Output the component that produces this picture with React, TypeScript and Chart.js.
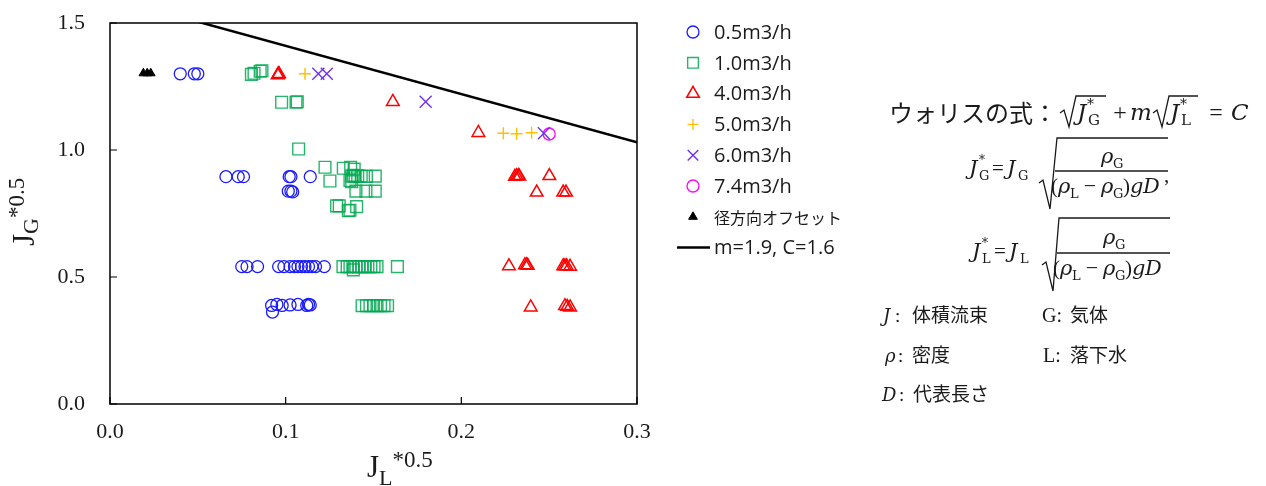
import React, { useEffect, useRef } from 'react';
import { Chart, registerables } from 'chart.js';

Chart.register(...registerables);

// ---------- labels / ticks ----------
const SERIES_LABELS = ['0.5m3/h', '1.0m3/h', '4.0m3/h', '5.0m3/h', '6.0m3/h', '7.4m3/h', '径方向オフセット'];
const LINE_LABEL = 'm=1.9, C=1.6';
const X_TICKS = [0, 0.1, 0.2, 0.3];
const Y_TICKS = [0, 0.5, 1.0, 1.5];
const WALLIS_M = 1.9;
const WALLIS_C = 1.6;
const LINE_X = [0, 0.3];

// ---------- 0.5 m3/h ----------
const q05X = [0.040, 0.048, 0.050,
  0.066, 0.073, 0.076, 0.102, 0.103, 0.114,
  0.1015, 0.103, 0.104,
  0.075, 0.078, 0.084, 0.096, 0.099, 0.1025, 0.105, 0.107, 0.109, 0.111, 0.113, 0.115, 0.117, 0.122,
  0.092, 0.095, 0.098, 0.1025, 0.107, 0.112, 0.113, 0.114, 0.0925];
const q05Y = [1.30, 1.30, 1.30,
  0.895, 0.895, 0.895, 0.895, 0.895, 0.895,
  0.838, 0.838, 0.835,
  0.541, 0.541, 0.541, 0.541, 0.541, 0.541, 0.541, 0.541, 0.541, 0.541, 0.541, 0.541, 0.541, 0.541,
  0.388, 0.392, 0.388, 0.390, 0.392, 0.388, 0.392, 0.390, 0.362];

// ---------- 1.0 m3/h ----------
const q10X = [0.0805, 0.082, 0.0855, 0.0865,
  0.0977, 0.1059, 0.1066,
  0.1074,
  0.1224, 0.1328, 0.1370, 0.1390,
  0.1252,
  0.1376, 0.1385, 0.1395, 0.1410, 0.1430, 0.1460, 0.1510,
  0.1366, 0.1376,
  0.1400, 0.1457, 0.1510,
  0.1290, 0.1305, 0.1357, 0.1366, 0.1404,
  0.1326, 0.1350, 0.1366, 0.1383, 0.1400, 0.1417, 0.1434, 0.1450, 0.1468, 0.1485, 0.1503, 0.1520, 0.1385, 0.1636,
  0.1435, 0.1460, 0.1480, 0.1500, 0.1520, 0.1540, 0.1560, 0.1580];
const q10Y = [1.298, 1.302, 1.310, 1.312,
  1.188, 1.188, 1.190,
  1.004,
  0.932, 0.928, 0.932, 0.925,
  0.878,
  0.897, 0.900, 0.895, 0.898, 0.897, 0.896, 0.897,
  0.880, 0.875,
  0.838, 0.838, 0.838,
  0.780, 0.780, 0.761, 0.763, 0.777,
  0.541, 0.541, 0.541, 0.541, 0.541, 0.541, 0.541, 0.541, 0.541, 0.541, 0.541, 0.541, 0.528, 0.541,
  0.387, 0.387, 0.387, 0.387, 0.387, 0.387, 0.387, 0.387];

// ---------- 4.0 m3/h ----------
const q40X = [0.0955, 0.0958, 0.0962,
  0.161, 0.2097,
  0.2305, 0.2315, 0.2325, 0.2330,
  0.2501, 0.2429, 0.2580, 0.2596,
  0.2271, 0.2362, 0.2372, 0.2378,
  0.2580, 0.2590, 0.2600, 0.2619,
  0.2395, 0.2590, 0.2603, 0.2619];
const q40Y = [1.295, 1.298, 1.300,
  1.190, 1.068,
  0.895, 0.897, 0.898, 0.896,
  0.898, 0.833, 0.833, 0.833,
  0.543, 0.547, 0.547, 0.545,
  0.543, 0.543, 0.543, 0.541,
  0.381, 0.386, 0.383, 0.381];

// ---------- 5.0 / 6.0 / 7.4 m3/h, radial offset ----------
const q50X = [0.111, 0.2239, 0.2315, 0.2400];
const q50Y = [1.300, 1.066, 1.064, 1.068];
const q60X = [0.1186, 0.1234, 0.1797, 0.2470];
const q60Y = [1.300, 1.300, 1.190, 1.066];
const q74X = [0.2500];
const q74Y = [1.063];
const offX = [0.0190, 0.0212, 0.0232];
const offY = [1.302, 1.302, 1.302];

const pts = (xs: number[], ys: number[]) => xs.map((x, i) => ({ x, y: ys[i] }));

const SERIF = "'Liberation Serif', 'Times New Roman', serif";
const MATH = "'DejaVu Serif', serif";
const CJK = "'Noto Sans CJK JP', sans-serif";
const INK = '#1a1a1a';

function drawMarker(ctx: CanvasRenderingContext2D, style: string, x: number, y: number, r: number, stroke: string, fill: string, lw: number) {
  ctx.save();
  ctx.strokeStyle = stroke;
  ctx.fillStyle = fill;
  ctx.lineWidth = lw;
  ctx.beginPath();
  if (style === 'circle') {
    ctx.arc(x, y, r, 0, Math.PI * 2);
  } else if (style === 'rect') {
    const s = r * Math.SQRT1_2;
    ctx.rect(x - s, y - s, 2 * s, 2 * s);
  } else if (style === 'triangle') {
    for (let k = 0; k < 3; k++) {
      const a = k * (2 * Math.PI / 3);
      const px = x + Math.sin(a) * r, py = y - Math.cos(a) * r;
      if (k === 0) ctx.moveTo(px, py); else ctx.lineTo(px, py);
    }
    ctx.closePath();
  } else if (style === 'cross') {
    ctx.moveTo(x - r, y); ctx.lineTo(x + r, y);
    ctx.moveTo(x, y - r); ctx.lineTo(x, y + r);
  } else if (style === 'crossRot') {
    const o = r * Math.SQRT1_2;
    ctx.moveTo(x - o, y - o); ctx.lineTo(x + o, y + o);
    ctx.moveTo(x + o, y - o); ctx.lineTo(x - o, y + o);
  }
  if (fill && fill !== 'transparent' && style !== 'cross' && style !== 'crossRot') ctx.fill();
  ctx.stroke();
  ctx.restore();
}

function drawParts(ctx: CanvasRenderingContext2D, parts: { t: string; size: number; dy: number }[]) {
  let x = 0;
  parts.forEach((p) => {
    ctx.font = `${p.size}px ${SERIF}`;
    ctx.fillText(p.t, x, p.dy);
    x += ctx.measureText(p.t).width;
  });
}

const decorPlugin = {
  id: 'decor',
  afterDraw(chart: any) {
    const { ctx, chartArea: a, scales } = chart;
    ctx.save();
    // frame
    ctx.strokeStyle = '#000';
    ctx.lineWidth = 1.5;
    ctx.strokeRect(a.left, a.top, a.right - a.left, a.bottom - a.top);
    // inward ticks
    ctx.lineWidth = 1.2;
    ctx.beginPath();
    X_TICKS.forEach((v) => {
      const px = scales.x.getPixelForValue(v);
      ctx.moveTo(px, a.bottom); ctx.lineTo(px, a.bottom - 7);
    });
    Y_TICKS.forEach((v) => {
      const py = scales.y.getPixelForValue(v);
      ctx.moveTo(a.left, py); ctx.lineTo(a.left + 7, py);
    });
    ctx.stroke();

    // axis titles
    ctx.fillStyle = INK;
    ctx.textBaseline = 'alphabetic';
    ctx.textAlign = 'left';
    ctx.save();
    ctx.translate(367, 477);
    drawParts(ctx, [{ t: 'J', size: 31, dy: 0 }, { t: 'L', size: 22, dy: 8 }, { t: '*0.5', size: 23, dy: -10 }]);
    ctx.restore();
    ctx.save();
    ctx.translate(34, 246);
    ctx.rotate(-Math.PI / 2);
    drawParts(ctx, [{ t: 'J', size: 31, dy: 0 }, { t: 'G', size: 22, dy: 4 }, { t: '*0.5', size: 23, dy: -10 }]);
    ctx.restore();

    // legend
    const mx = 693, tx = 714, y0 = 32, dy = 30.8;
    chart.data.datasets.forEach((ds: any, i: number) => {
      const y = y0 + i * dy;
      if (ds.showLine) {
        ctx.strokeStyle = ds.borderColor;
        ctx.lineWidth = ds.borderWidth;
        ctx.beginPath();
        ctx.moveTo(677, y); ctx.lineTo(710, y);
        ctx.stroke();
      } else {
        drawMarker(ctx, ds.pointStyle, mx, y, ds.legendRadius, ds.pointBorderColor, ds.pointBackgroundColor, ds.pointBorderWidth);
      }
      const isCJK = /[\u3000-\u9fff]/.test(ds.label);
      ctx.font = isCJK ? `16px ${CJK}` : "20px 'Open Sans', sans-serif";
      ctx.fillStyle = INK;
      ctx.textBaseline = 'middle';
      ctx.fillText(ds.label, tx, y + 1);
    });
    ctx.restore();
  },
};

function scatterSet(label: string, xs: number[], ys: number[], style: string, color: string, r: number, lw: number, fill = 'transparent', legendRadius = r) {
  return {
    label,
    data: pts(xs, ys),
    pointStyle: style,
    pointRadius: r,
    pointBorderColor: color,
    pointBackgroundColor: fill,
    pointBorderWidth: lw,
    borderColor: color,
    backgroundColor: fill,
    showLine: false,
    legendRadius,
  };
}

function ChartCanvas() {
  const ref = useRef<HTMLCanvasElement>(null);
  useEffect(() => {
    if (!ref.current) return;
    const lineData = LINE_X.map((x) => ({ x, y: WALLIS_C - WALLIS_M * x }));
    const chart = new Chart(ref.current, {
      type: 'scatter',
      data: {
        datasets: [
          scatterSet(SERIES_LABELS[0], q05X, q05Y, 'circle', '#1a1aff', 6, 1.3),
          scatterSet(SERIES_LABELS[1], q10X, q10Y, 'rect', 'rgba(0,168,80,0.85)', 8.3, 1.4, 'transparent', 7.6),
          scatterSet(SERIES_LABELS[2], q40X, q40Y, 'triangle', '#ff0000', 7.3, 1.5),
          scatterSet(SERIES_LABELS[3], q50X, q50Y, 'cross', '#ffc000', 6, 1.4, 'transparent', 5.5),
          scatterSet(SERIES_LABELS[4], q60X, q60Y, 'crossRot', '#7030f0', 8.5, 1.4, 'transparent', 7.5),
          scatterSet(SERIES_LABELS[5], q74X, q74Y, 'circle', '#ff00ff', 6, 1.3),
          scatterSet(SERIES_LABELS[6], offX, offY, 'triangle', '#000000', 5, 1, '#000000', 5),
          {
            label: LINE_LABEL,
            data: lineData,
            showLine: true,
            borderColor: '#000000',
            borderWidth: 2.5,
            pointRadius: 0,
            fill: false,
            clip: 0,
          } as any,
        ],
      },
      options: {
        animation: false,
        responsive: false,
        events: [],
        layout: { padding: { left: 0, top: 23, right: 629, bottom: 0 } },
        plugins: { legend: { display: false }, tooltip: { enabled: false } },
        scales: {
          x: {
            type: 'linear',
            min: 0,
            max: 0.3,
            afterBuildTicks: (s: any) => { s.ticks = X_TICKS.map((v) => ({ value: v })); },
            afterFit: (s: any) => { s.height = 82; },
            grid: { display: false, drawTicks: true, tickLength: 15 },
            border: { display: false },
            ticks: {
              padding: 0,
              color: INK,
              autoSkip: false,
              maxRotation: 0,
              font: { family: SERIF, size: 22 },
              callback: (v: any) => Number(v).toFixed(1),
            },
          },
          y: {
            type: 'linear',
            min: 0,
            max: 1.5,
            afterBuildTicks: (s: any) => { s.ticks = Y_TICKS.map((v) => ({ value: v })); },
            afterFit: (s: any) => { s.width = 110; },
            grid: { display: false, drawTicks: true, tickLength: 25 },
            border: { display: false },
            ticks: {
              padding: 0,
              color: INK,
              autoSkip: false,
              font: { family: SERIF, size: 22 },
              callback: (v: any) => Number(v).toFixed(1),
            },
          },
        },
      } as any,
      plugins: [decorPlugin],
    });
    return () => chart.destroy();
  }, []);
  return <canvas ref={ref} width={1266} height={486} style={{ display: 'block', width: 1266, height: 486 }} />;
}

type TP = { x: number; y: number; s: number; it?: boolean; f?: string; a?: 'start' | 'middle' | 'end'; children: React.ReactNode };
const T = ({ x, y, s, it, f = MATH, a = 'start', children }: TP) => (
  <text x={x} y={y} fontSize={s} fontStyle={it ? 'italic' : 'normal'} fontFamily={f} textAnchor={a} fill={INK}>{children}</text>
);

function Formulas() {
  const sw = { stroke: INK, fill: 'none', strokeWidth: 1.3 } as any;
  return (
    <svg width={1266} height={486} style={{ position: 'absolute', left: 0, top: 0, pointerEvents: 'none' }}>
      {/* line 1 */}
      <T x={889} y={122} s={24} f={CJK}>ウォリスの式：</T>
      <path d="M1060,113 L1064,110 L1069,127 L1076,96 L1106,96" {...sw} />
      <T x={1077} y={120} s={23} it>J</T>
      <T x={1087} y={109} s={14}>*</T>
      <T x={1088} y={125} s={15}>G</T>
      <T x={1120} y={120} s={24} f={SERIF} a="middle">+</T>
      <T x={1130} y={120} s={23} it>m</T>
      <path d="M1153,113 L1157,110 L1162,127 L1169,96 L1198,96" {...sw} />
      <T x={1170} y={120} s={23} it>J</T>
      <T x={1180} y={109} s={14}>*</T>
      <T x={1181} y={125} s={15}>L</T>
      <T x={1216} y={120} s={24} f={SERIF} a="middle">=</T>
      <T x={1231} y={120} s={23} it>C</T>

      {/* line 2 */}
      <T x={969} y={175} s={21} it>J</T>
      <T x={979} y={164} s={12}>*</T>
      <T x={979} y={180} s={13}>G</T>
      <T x={998} y={175} s={21} f={SERIF} a="middle">=</T>
      <T x={1007} y={175} s={21} it>J</T>
      <T x={1018} y={180} s={13}>G</T>
      <path d="M1039,183 L1043,180 L1050,209 L1057,138 L1168,138" {...sw} />
      <T x={1101} y={163} s={21} it>ρ</T>
      <T x={1113} y={168} s={13}>G</T>
      <line x1={1055} x2={1168} y1={171} y2={171} stroke={INK} strokeWidth={1.3} />
      <T x={1051} y={193} s={21} f={SERIF}>(</T>
      <T x={1058} y={193} s={21} it>ρ</T>
      <T x={1070} y={198} s={13}>L</T>
      <T x={1090} y={193} s={22} f={SERIF} a="middle">−</T>
      <T x={1101} y={193} s={21} it>ρ</T>
      <T x={1113} y={198} s={13}>G</T>
      <T x={1123} y={193} s={21} f={SERIF}>)</T>
      <T x={1130} y={193} s={21} it>g</T>
      <T x={1143} y={193} s={21} it>D</T>
      <T x={1164} y={182} s={21} f={SERIF}>,</T>

      {/* line 3 */}
      <T x={972} y={258} s={21} it>J</T>
      <T x={982} y={247} s={12}>*</T>
      <T x={982} y={263} s={13}>L</T>
      <T x={1000} y={258} s={21} f={SERIF} a="middle">=</T>
      <T x={1009} y={258} s={21} it>J</T>
      <T x={1020} y={263} s={13}>L</T>
      <path d="M1042,265 L1046,262 L1053,291 L1059,218 L1170,218" {...sw} />
      <T x={1103} y={244} s={21} it>ρ</T>
      <T x={1115} y={249} s={13}>G</T>
      <line x1={1057} x2={1170} y1={253} y2={253} stroke={INK} strokeWidth={1.3} />
      <T x={1053} y={275} s={21} f={SERIF}>(</T>
      <T x={1060} y={275} s={21} it>ρ</T>
      <T x={1072} y={280} s={13}>L</T>
      <T x={1092} y={275} s={22} f={SERIF} a="middle">−</T>
      <T x={1103} y={275} s={21} it>ρ</T>
      <T x={1115} y={280} s={13}>G</T>
      <T x={1125} y={275} s={21} f={SERIF}>)</T>
      <T x={1132} y={275} s={21} it>g</T>
      <T x={1145} y={275} s={21} it>D</T>

      {/* definitions */}
      <T x={883} y={322} s={18} it>J</T>
      <T x={895} y={322} s={19} f={SERIF}>:</T>
      <T x={912} y={322} s={19} f={CJK}>体積流束</T>
      <T x={1042} y={322} s={20} f={SERIF}>G:</T>
      <T x={1070} y={322} s={19} f={CJK}>気体</T>

      <T x={885} y={362} s={18} it>ρ</T>
      <T x={898} y={362} s={19} f={SERIF}>:</T>
      <T x={912} y={362} s={19} f={CJK}>密度</T>
      <T x={1043} y={362} s={20} f={SERIF}>L:</T>
      <T x={1070} y={362} s={19} f={CJK}>落下水</T>

      <T x={882} y={401} s={18} it>D</T>
      <T x={899} y={401} s={19} f={SERIF}>:</T>
      <T x={913} y={401} s={19} f={CJK}>代表長さ</T>
    </svg>
  );
}

export default function App() {
  return (
    <div style={{ position: 'absolute', left: 0, top: 0, width: 1266, height: 486, background: '#fff' }}>
      <ChartCanvas />
      <Formulas />
    </div>
  );
}
